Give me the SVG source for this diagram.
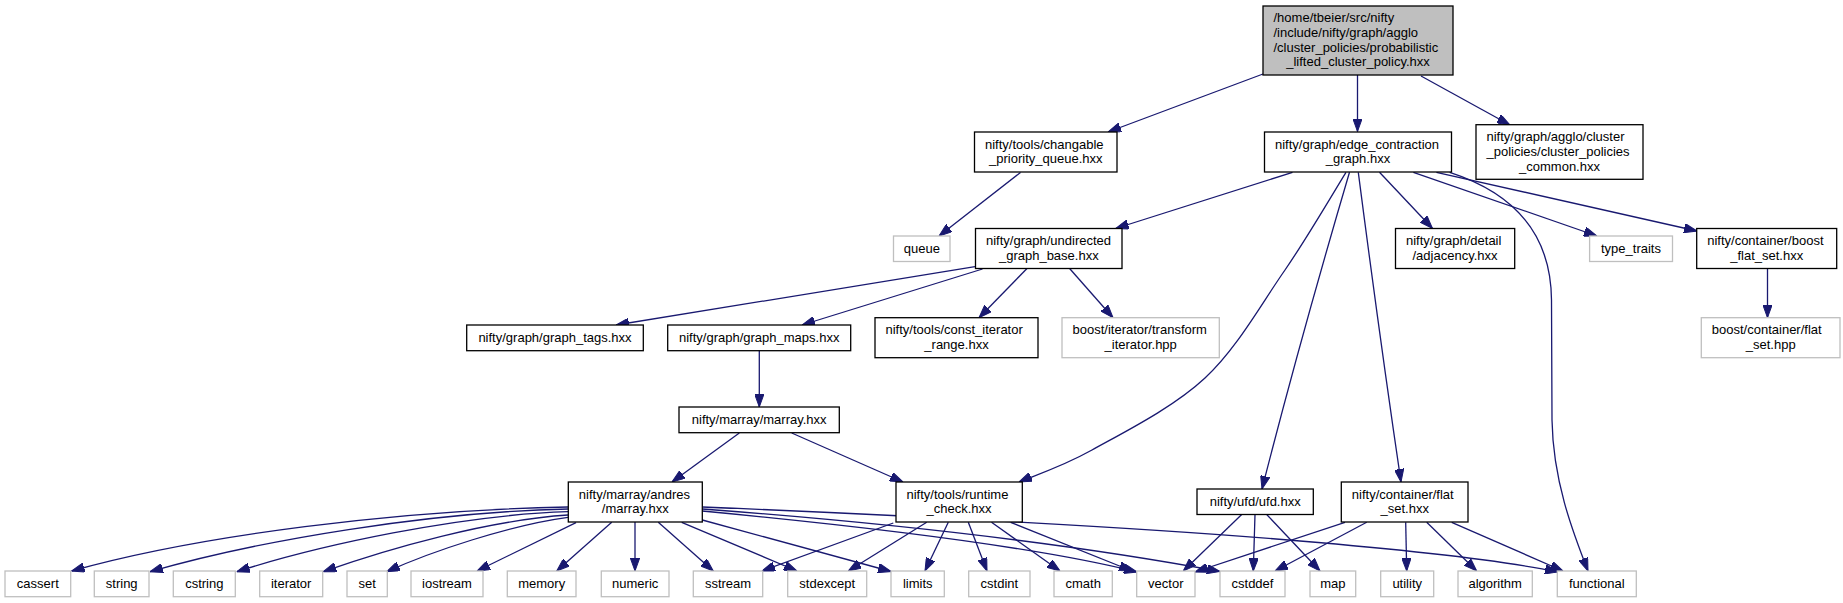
<svg xmlns="http://www.w3.org/2000/svg" width="1843" height="603" viewBox="0 0 1843 603">
<style>
.n rect{fill:#fff;stroke:#000;stroke-width:1.3}
.g rect{fill:#fff;stroke:#bfbfbf;stroke-width:1.3}
.root rect{fill:#bfbfbf;stroke:#000;stroke-width:1.3}
text{font-family:"Liberation Sans",Arial,Helvetica,sans-serif;font-size:13px;fill:#000}
.c{text-anchor:middle}
#edges path{fill:none;stroke:#191970;stroke-width:1.3;marker-end:url(#arrow)}
</style>
<defs>
<marker id="arrow" viewBox="0 0 13 9.4" refX="13" refY="4.7" markerWidth="13" markerHeight="9.4" markerUnits="userSpaceOnUse" orient="auto">
<path d="M0,0 L13,4.7 L0,9.4 Z" fill="#191970" stroke="#191970" stroke-width="1"/>
</marker>
</defs>
<rect width="1843" height="603" fill="#fff"/>
<g id="edges">
<path d="M1263,74 L1108,132"/>
<path d="M1357.5,75 L1357.5,131.5"/>
<path d="M1421,76 L1510,125"/>
<path d="M1020.5,172.5 L939,236"/>
<path d="M1292.5,172.3 L1115.6,228.5"/>
<path d="M1379.5,172.3 L1432.5,228.5"/>
<path d="M1413.4,172.3 L1597,236"/>
<path d="M1436.4,172.3 L1697,231"/>
<path d="M1449.7,172.3 C1520,195 1551,240 1551.5,300 L1552,420 C1553,480 1572,530 1588,571"/>
<path d="M1346,172.3 C1335.8,188.6 1308.5,235.7 1285,270 C1261,304.3 1237.2,348 1205,378 C1172.8,408 1123,432.7 1092,450 C1061,467.3 1031.2,476.7 1019,482"/>
<path d="M1349.5,172.3 Q1300,340 1262,489"/>
<path d="M1358.3,172.3 Q1380,340 1401,482"/>
<path d="M975,266.7 L616,325"/>
<path d="M982.5,269 L802,325"/>
<path d="M1027,268.5 L979,317.7"/>
<path d="M1069.6,268.5 L1113,317.7"/>
<path d="M1767.5,268.5 L1767.5,317.7"/>
<path d="M759.3,350.7 L759.3,407"/>
<path d="M739.3,433 L672,482"/>
<path d="M791.7,433 L903,482"/>
<path d="M568,507 C400,510 200,535 71.5,571"/>
<path d="M568,509 C430,512 260,540 150,571.7"/>
<path d="M568,511.7 C460,515 320,545 236.7,571.7"/>
<path d="M568,515 C490,520 390,548 323.3,571.7"/>
<path d="M568,517.3 C510,525 430,552 386.7,571.7"/>
<path d="M576,522.7 L477,571"/>
<path d="M611.7,522.3 L556.7,571"/>
<path d="M635,522 L635,571"/>
<path d="M658.3,522.3 L713.3,571"/>
<path d="M681.7,522.3 L797,571"/>
<path d="M702.3,520 L891,571.5"/>
<path d="M702.3,511 C850,525 1030,545 1137,572"/>
<path d="M702.3,509 C850,520 1050,540 1220,571.5"/>
<path d="M702.3,507 C900,515 1150,528 1300,541 C1420,551 1510,562 1558,572"/>
<path d="M893.3,523 L762,571"/>
<path d="M926.7,522.3 L848.3,571"/>
<path d="M948.3,522.3 L925,571"/>
<path d="M968.3,522.3 L987,571"/>
<path d="M991.5,522.3 L1060,571"/>
<path d="M1010.7,522.3 L1132,571"/>
<path d="M1241.7,514.5 L1183.3,571"/>
<path d="M1255,514.5 L1253.3,571"/>
<path d="M1266.7,514.5 L1320,571"/>
<path d="M1345,522.3 L1195,572"/>
<path d="M1366.7,522.3 L1275,571"/>
<path d="M1405.7,522.3 L1406.7,571"/>
<path d="M1426.7,522.3 L1476.7,571"/>
<path d="M1451.7,522.3 L1563,571"/>
</g>
<g id="root" class="root"><rect x="1263" y="6" width="190" height="69"/>
<text x="1273.5" y="22">/home/tbeier/src/nifty</text>
<text x="1273.5" y="36.8">/include/nifty/graph/agglo</text>
<text x="1273.5" y="51.6">/cluster_policies/probabilistic</text>
<text x="1358" y="66.4" class="c">_lifted_cluster_policy.hxx</text></g>
<g id="changable" class="n"><rect x="974.5" y="132" width="142.5" height="40"/>
<text x="985" y="148.5">nifty/tools/changable</text>
<text x="1045.8" y="163.3" class="c">_priority_queue.hxx</text></g>
<g id="edge_contraction" class="n"><rect x="1264.5" y="132" width="187" height="40"/>
<text x="1275" y="148.5">nifty/graph/edge_contraction</text>
<text x="1358" y="163.3" class="c">_graph.hxx</text></g>
<g id="cluster_common" class="n"><rect x="1476" y="124.7" width="167" height="54.6"/>
<text x="1486.5" y="141.3">nifty/graph/agglo/cluster</text>
<text x="1486.5" y="156">_policies/cluster_policies</text>
<text x="1559.5" y="170.7" class="c">_common.hxx</text></g>
<g id="queue" class="g"><rect x="893.5" y="236" width="56.5" height="25.5"/>
<text x="921.8" y="253" class="c">queue</text></g>
<g id="undirected" class="n"><rect x="975.5" y="228.5" width="146.5" height="40"/>
<text x="986" y="245">nifty/graph/undirected</text>
<text x="1048.8" y="259.8" class="c">_graph_base.hxx</text></g>
<g id="adjacency" class="n"><rect x="1395.5" y="228.5" width="119.2" height="40"/>
<text x="1406" y="245">nifty/graph/detail</text>
<text x="1455" y="259.8" class="c">/adjacency.hxx</text></g>
<g id="type_traits" class="g"><rect x="1589.6" y="236" width="82.9" height="25.5"/>
<text x="1631" y="253" class="c">type_traits</text></g>
<g id="boost_flat_set" class="n"><rect x="1696.7" y="228.5" width="140" height="40"/>
<text x="1707.2" y="245">nifty/container/boost</text>
<text x="1766.7" y="259.8" class="c">_flat_set.hxx</text></g>
<g id="graph_tags" class="n"><rect x="466.7" y="325" width="176.6" height="25.7"/>
<text x="555" y="342.2" class="c">nifty/graph/graph_tags.hxx</text></g>
<g id="graph_maps" class="n"><rect x="667.7" y="325" width="183" height="25.7"/>
<text x="759.2" y="342.2" class="c">nifty/graph/graph_maps.hxx</text></g>
<g id="const_iter" class="n"><rect x="875" y="317.7" width="163" height="40"/>
<text x="885.5" y="334.2">nifty/tools/const_iterator</text>
<text x="956.5" y="349" class="c">_range.hxx</text></g>
<g id="transform" class="g"><rect x="1062" y="317.7" width="157.3" height="40"/>
<text x="1072.5" y="334.2">boost/iterator/transform</text>
<text x="1140.7" y="349" class="c">_iterator.hpp</text></g>
<g id="flat_set_hpp" class="g"><rect x="1701.3" y="317.7" width="138.7" height="40"/>
<text x="1711.8" y="334.2">boost/container/flat</text>
<text x="1770.7" y="349" class="c">_set.hpp</text></g>
<g id="marray" class="n"><rect x="679" y="407" width="160.3" height="25.7"/>
<text x="759.2" y="424.2" class="c">nifty/marray/marray.hxx</text></g>
<g id="andres" class="n"><rect x="568.3" y="482" width="134" height="40"/>
<text x="578.8" y="498.5">nifty/marray/andres</text>
<text x="635.3" y="513.3" class="c">/marray.hxx</text></g>
<g id="runtime_check" class="n"><rect x="896" y="482" width="126.3" height="40"/>
<text x="906.5" y="498.5">nifty/tools/runtime</text>
<text x="959" y="513.3" class="c">_check.hxx</text></g>
<g id="ufd" class="n"><rect x="1197" y="489" width="116.3" height="25.5"/>
<text x="1255.2" y="506" class="c">nifty/ufd/ufd.hxx</text></g>
<g id="flat_set" class="n"><rect x="1341.3" y="482" width="126.7" height="40"/>
<text x="1351.8" y="498.5">nifty/container/flat</text>
<text x="1404.7" y="513.3" class="c">_set.hxx</text></g>
<g id="cassert" class="g"><rect x="5" y="571" width="65.7" height="25.7"/><text x="37.8" y="588" class="c">cassert</text></g>
<g id="string" class="g"><rect x="94.3" y="571" width="54.7" height="25.7"/><text x="121.7" y="588" class="c">string</text></g>
<g id="cstring" class="g"><rect x="173.3" y="571" width="62" height="25.7"/><text x="204.3" y="588" class="c">cstring</text></g>
<g id="iterator" class="g"><rect x="259.7" y="571" width="63" height="25.7"/><text x="291.2" y="588" class="c">iterator</text></g>
<g id="set" class="g"><rect x="347" y="571" width="40.3" height="25.7"/><text x="367.2" y="588" class="c">set</text></g>
<g id="iostream" class="g"><rect x="411" y="571" width="72" height="25.7"/><text x="447" y="588" class="c">iostream</text></g>
<g id="memory" class="g"><rect x="507.3" y="571" width="68.7" height="25.7"/><text x="541.7" y="588" class="c">memory</text></g>
<g id="numeric" class="g"><rect x="601.3" y="571" width="67.7" height="25.7"/><text x="635.2" y="588" class="c">numeric</text></g>
<g id="sstream" class="g"><rect x="693.3" y="571" width="69.4" height="25.7"/><text x="728" y="588" class="c">sstream</text></g>
<g id="stdexcept" class="g"><rect x="787.7" y="571" width="79" height="25.7"/><text x="827.2" y="588" class="c">stdexcept</text></g>
<g id="limits" class="g"><rect x="891" y="571" width="53.3" height="25.7"/><text x="917.7" y="588" class="c">limits</text></g>
<g id="cstdint" class="g"><rect x="968.7" y="571" width="61.3" height="25.7"/><text x="999.4" y="588" class="c">cstdint</text></g>
<g id="cmath" class="g"><rect x="1054" y="571" width="58.3" height="25.7"/><text x="1083.2" y="588" class="c">cmath</text></g>
<g id="vector" class="g"><rect x="1136.7" y="571" width="58.3" height="25.7"/><text x="1165.8" y="588" class="c">vector</text></g>
<g id="cstddef" class="g"><rect x="1220" y="571" width="65" height="25.7"/><text x="1252.5" y="588" class="c">cstddef</text></g>
<g id="map" class="g"><rect x="1310" y="571" width="45.7" height="25.7"/><text x="1332.8" y="588" class="c">map</text></g>
<g id="utility" class="g"><rect x="1380.7" y="571" width="53" height="25.7"/><text x="1407.2" y="588" class="c">utility</text></g>
<g id="algorithm" class="g"><rect x="1458" y="571" width="74.3" height="25.7"/><text x="1495.2" y="588" class="c">algorithm</text></g>
<g id="functional" class="g"><rect x="1557.3" y="571" width="79" height="25.7"/><text x="1596.8" y="588" class="c">functional</text></g>
</svg>
